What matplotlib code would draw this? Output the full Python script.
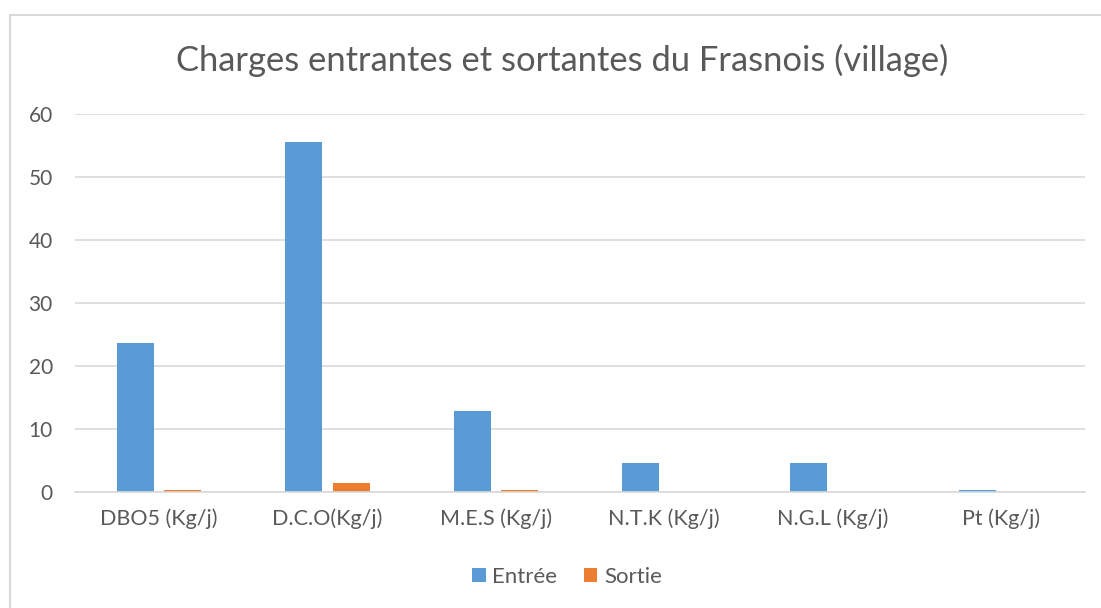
import matplotlib.pyplot as plt
from matplotlib.patches import Rectangle
import numpy as np

plt.rcParams['font.family'] = ['Lato', 'DejaVu Sans']

categories = ["DBO5 (Kg/j)", "D.C.O(Kg/j)", "M.E.S (Kg/j)", "N.T.K (Kg/j)", "N.G.L (Kg/j)", "Pt (Kg/j)"]
entree = [23.6, 55.5, 12.8, 4.65, 4.65, 0.35]
sortie = [0.3, 1.35, 0.25, 0.0, 0.0, 0.0]

blue = "#5b9bd5"
orange = "#ed7d31"
txt = "#595959"

fig = plt.figure(figsize=(11.01, 6.08), dpi=100)
# chart frame
fig.patches.append(Rectangle((10 / 1101, -0.01), 1.0, 1 - 15 / 608 + 0.01,
                             transform=fig.transFigure, fill=False,
                             edgecolor="#d9d9d9", linewidth=1.5))

ax = fig.add_axes([75 / 1101, 1 - 492 / 608, 1010 / 1101, (492 - 114) / 608])

x = np.arange(len(categories))
w = 0.22
ax.bar(x - 0.141, entree, w, color=blue, label="Entrée")
ax.bar(x + 0.141, sortie, w, color=orange, label="Sortie")

ax.set_xlim(-0.5, len(categories) - 0.5)
ax.set_ylim(0, 60)
ax.set_yticks(range(0, 61, 10))
ax.set_xticks(x)
ax.set_xticklabels(categories)
ax.tick_params(length=0, colors=txt)
ax.tick_params(axis="x", pad=12, labelsize=15.5)
ax.tick_params(axis="y", pad=16, labelsize=15)
ax.grid(axis="y", color="#d9d9d9", linewidth=1.2)
ax.set_axisbelow(True)
for s in ["top", "right", "left"]:
    ax.spines[s].set_visible(False)
ax.spines["bottom"].set_color("#d9d9d9")
ax.spines["bottom"].set_linewidth(1.2)

fig.text(0.511, 1 - 60 / 608, "Charges entrantes et sortantes du Frasnois (village)",
         ha="center", va="center", fontsize=24.8, color=txt)

fig.legend(loc="center", bbox_to_anchor=(0.515, 1 - 577 / 608), ncol=2, frameon=False,
           fontsize=16, labelcolor=txt, handlelength=0.6, handleheight=0.6,
           handletextpad=0.3, columnspacing=1.2)

fig.savefig("out.png", dpi=100)
